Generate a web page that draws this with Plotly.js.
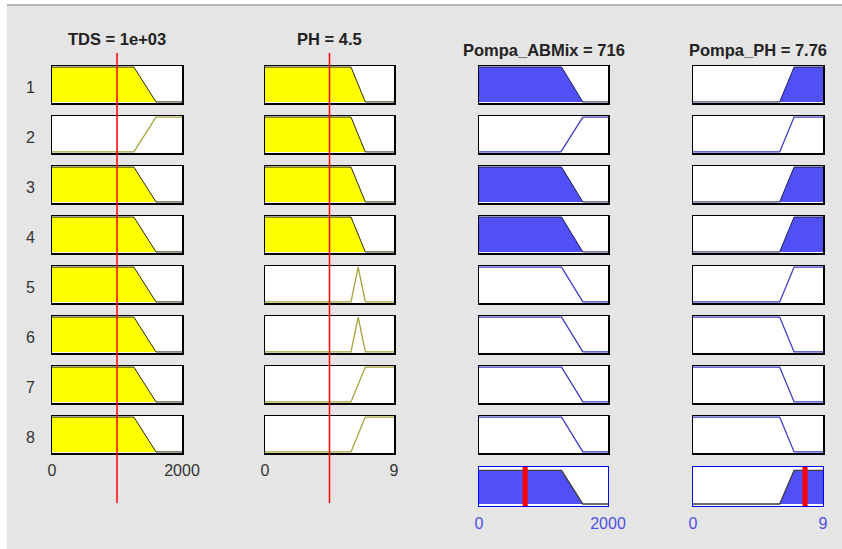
<!DOCTYPE html>
<html><head><meta charset="utf-8">
<script src="https://cdn.plot.ly/plotly-3.0.1.min.js"></script>
<style>html,body{margin:0;padding:0;background:#fff}</style>
</head><body>
<div id="chart" style="width:842px;height:549px"></div>
<script>
// ---------------- data ----------------
const ruleLabels = ['1','2','3','4','5','6','7','8'];
const inputTitles = ['TDS = 1e+03', 'PH = 4.5'];
const inputValues = [1000, 4.5];
const outputTitles = ['Pompa_ABMix = 716', 'Pompa_PH = 7.76'];
const outputValues = [716, 7.76];

const tdsRange = [0, 2000];
const phRange = [0, 9];
const abmixRange = [0, 2000];
const pompaPhRange = [0, 9];

const tdsTicks = [0, 2000];
const phTicks = [0, 9];
const abmixTicks = [0, 2000];
const pompaPhTicks = [0, 9];

// membership functions (trapezoid a,b,c,d)
const tdsLow = [0, 0, 1260, 1600];
const tdsHigh = [1260, 1600, 2000, 2000];
const phLow = [0, 0, 6, 7];
const phMid = [6, 6.5, 6.5, 7];
const phHigh = [6, 7, 9, 9];
const abmixLow = [0, 0, 1280, 1610];
const abmixHigh = [1270, 1610, 2000, 2000];
const pompaPhLow = [0, 0, 6, 7];
const pompaPhHigh = [6, 7, 9, 9];

// rules
const tdsRules = [tdsLow, tdsHigh, tdsLow, tdsLow, tdsLow, tdsLow, tdsLow, tdsLow];
const phRules = [phLow, phLow, phLow, phLow, phMid, phMid, phHigh, phHigh];
const abmixRules = [abmixLow, abmixHigh, abmixLow, abmixLow, abmixLow, abmixLow, abmixLow, abmixLow];
const pompaPhRules = [pompaPhHigh, pompaPhHigh, pompaPhHigh, pompaPhHigh, pompaPhHigh, pompaPhLow, pompaPhLow, pompaPhLow];

// degrees
const tdsDegree = [1, 0, 1, 1, 1, 1, 1, 1];
const phDegree = [1, 1, 1, 1, 0, 0, 0, 0];
const ruleFiring = [1, 0, 1, 1, 0, 0, 0, 0];

// ---------------- drawing ----------------
const W = 842, H = 549;
const FONT = 'Liberation Sans, Arial, Helvetica, sans-serif';
const YELLOW = '#ffff00', OLIVE = '#a3a33a';
const BLUE_FILL = '#5050f6', BLUE_LINE = '#3a3ac4';
const PANEL = '#e5e5e5';

function mu(p, x) {
  const [a, b, c, d] = p;
  if (x < a || x > d) return 0;
  if (x >= b && x <= c) return 1;
  if (x < b) return (x - a) / (b - a);
  return (d - x) / (d - c);
}
function mfLine(p, r) {
  const [a, b, c, d] = p;
  const xs = [r[0], a, b, c, d, r[1]];
  const ys = [mu(p, r[0]), a === b ? 1 : 0, 1, 1, c === d ? 1 : 0, mu(p, r[1])];
  return {x: xs, y: ys};
}
function mfFill(p, r, h) {
  const [a, b, c, d] = p;
  const xs = [r[0], a, a + (b - a) * h, d - (d - c) * h, d, r[1]];
  const ys = [a === r[0] && a === b ? h : 0, a === b ? h : 0, h, h, c === d ? h : 0, d === r[1] && c === d ? h : 0];
  return {x: xs, y: ys};
}

const cols = [
  {px: [52, 182], range: tdsRange, ticks: tdsTicks, rules: tdsRules, deg: tdsDegree, out: false, val: inputValues[0], title: inputTitles[0]},
  {px: [265, 394], range: phRange, ticks: phTicks, rules: phRules, deg: phDegree, out: false, val: inputValues[1], title: inputTitles[1]},
  {px: [479, 608], range: abmixRange, ticks: abmixTicks, rules: abmixRules, deg: ruleFiring, out: true, val: outputValues[0], title: outputTitles[0]},
  {px: [693, 823], range: pompaPhRange, ticks: pompaPhTicks, rules: pompaPhRules, deg: ruleFiring, out: true, val: outputValues[1], title: outputTitles[1]}
];

const ROW_TOP = 66, ROW_STEP = 50, ROW_H = 37;
const AGG_TOP = 467, AGG_BOT = 506;

const traces = [];
const layout = {
  width: W, height: H, margin: {l: 0, r: 0, t: 0, b: 0},
  paper_bgcolor: PANEL, plot_bgcolor: 'rgba(0,0,0,0)',
  showlegend: false, font: {family: FONT, size: 16, color: '#333'},
  shapes: [
    {type: 'rect', xref: 'paper', yref: 'paper', x0: 0, x1: 7 / W, y0: 0, y1: 1, fillcolor: '#ffffff', line: {width: 0}, layer: 'below'},
    {type: 'rect', xref: 'paper', yref: 'paper', x0: 0, x1: 1, y0: 1 - 4 / H, y1: 1, fillcolor: '#ffffff', line: {width: 0}, layer: 'below'},
    {type: 'line', xref: 'paper', yref: 'paper', x0: 7 / W, x1: 1, y0: 1 - 5 / H, y1: 1 - 5 / H, line: {color: '#b4b4b4', width: 2}, layer: 'below'}
  ],
  annotations: []
};

let n = 0;
function addAxes(xdom, ytop, ybot, xr, yr, opts) {
  n++;
  const s = n === 1 ? '' : String(n);
  const base = {showgrid: false, zeroline: false, fixedrange: true, ticks: ''};
  layout['xaxis' + s] = Object.assign({}, base, {
    domain: [xdom[0] / W, xdom[1] / W], range: xr, anchor: 'y' + s,
    showline: opts.showline, mirror: true, linecolor: opts.lc || '#000', linewidth: opts.lw || 1.5,
    showticklabels: !!opts.tickvals, tickvals: opts.tickvals, ticktext: opts.tickvals ? opts.tickvals.map(String) : undefined,
    tickfont: {family: FONT, size: 16, color: opts.tc || '#333'}, ticklabelstandoff: opts.standoff || 0,
    visible: opts.visible !== false
  });
  layout['yaxis' + s] = Object.assign({}, base, {
    domain: [1 - ybot / H, 1 - ytop / H], range: yr, anchor: 'x' + s,
    showline: opts.showline, mirror: true, linecolor: opts.lc || '#000', linewidth: opts.lw || 1.5,
    showticklabels: false, visible: opts.visible !== false
  });
  if (opts.showline) {
    layout.shapes.push({type: 'rect', xref: 'x' + s + ' domain', yref: 'y' + s + ' domain', x0: 0, x1: 1, y0: 0, y1: 1,
      fillcolor: '#ffffff', line: {width: 0}, layer: 'below'});
  }
  return {x: 'x' + s, y: 'y' + s, id: s};
}

const YR = [-0.03, 1.03];
cols.forEach((col, ci) => {
  col.rules.forEach((p, ri) => {
    const top = ROW_TOP + ri * ROW_STEP;
    const last = ri === col.rules.length - 1;
    const ax = addAxes(col.px, top, top + ROW_H, col.range, YR, {
      showline: true,
      tickvals: (!col.out && last) ? col.ticks : undefined,
      standoff: 2
    });
    const h = col.deg[ri];
    if (h > 0) {
      const f = mfFill(p, col.range, h);
      traces.push({type: 'scatter', mode: 'lines', x: f.x, y: f.y, xaxis: ax.x, yaxis: ax.y,
        fill: 'tozeroy', fillcolor: col.out ? BLUE_FILL : YELLOW,
        line: {color: col.out ? '#1c1c5a' : '#2a2a10', width: 1}, hoverinfo: 'skip'});
    } else {
      const l = mfLine(p, col.range);
      traces.push({type: 'scatter', mode: 'lines', x: l.x, y: l.y, xaxis: ax.x, yaxis: ax.y,
        line: {color: col.out ? BLUE_LINE : OLIVE, width: 1.3}, hoverinfo: 'skip'});
    }
    if (ci === 0) {
      layout.annotations.push({xref: 'paper', yref: ax.y + ' domain', x: 30 / W, y: 0.5, yshift: -3,
        text: ruleLabels[ri], showarrow: false, font: {family: FONT, size: 16, color: '#333'}, xanchor: 'center', yanchor: 'middle'});
    }
  });
  // titles
  layout.annotations.push({xref: 'paper', yref: 'paper', x: (col.px[0] + col.px[1]) / 2 / W,
    y: 1 - (col.out ? 50 : 38.5) / H, text: '<b>' + col.title + '</b>', showarrow: false,
    font: {family: FONT, size: 16.5, color: '#222'}, xanchor: 'center', yanchor: 'middle'});

  if (col.out) {
    // aggregated output
    const AYR = [-0.06, 1.1];
    const ax = addAxes(col.px, AGG_TOP, AGG_BOT, col.range, AYR, {
      showline: true, lc: '#0000ff', lw: 1.2, tickvals: col.ticks, tc: '#5050e8', standoff: 3
    });
    let best = null, hmax = 0;
    col.rules.forEach((p, ri) => { if (col.deg[ri] > hmax) { hmax = col.deg[ri]; best = p; } });
    const f = mfFill(best, col.range, hmax);
    traces.push({type: 'scatter', mode: 'lines', x: f.x, y: f.y, xaxis: ax.x, yaxis: ax.y,
      fill: 'tozeroy', fillcolor: BLUE_FILL, line: {color: '#3a3a3a', width: 1.3}, hoverinfo: 'skip'});
    traces.push({type: 'scatter', mode: 'lines', x: [col.val, col.val], y: AYR, xaxis: ax.x, yaxis: ax.y,
      line: {color: '#ff0000', width: 5}, hoverinfo: 'skip'});
  }
});

// red input markers, overlay axes on top
cols.forEach(col => {
  if (col.out) return;
  const ax = addAxes(col.px, 53, 503, col.range, [0, 1], {showline: false, visible: false});
  traces.push({type: 'scatter', mode: 'lines', x: [col.val, col.val], y: [0, 1], xaxis: ax.x, yaxis: ax.y,
    line: {color: '#ff0000', width: 1.5}, hoverinfo: 'skip'});
});

Plotly.newPlot('chart', traces, layout, {staticPlot: true, displayModeBar: false});
</script>
</body></html>
